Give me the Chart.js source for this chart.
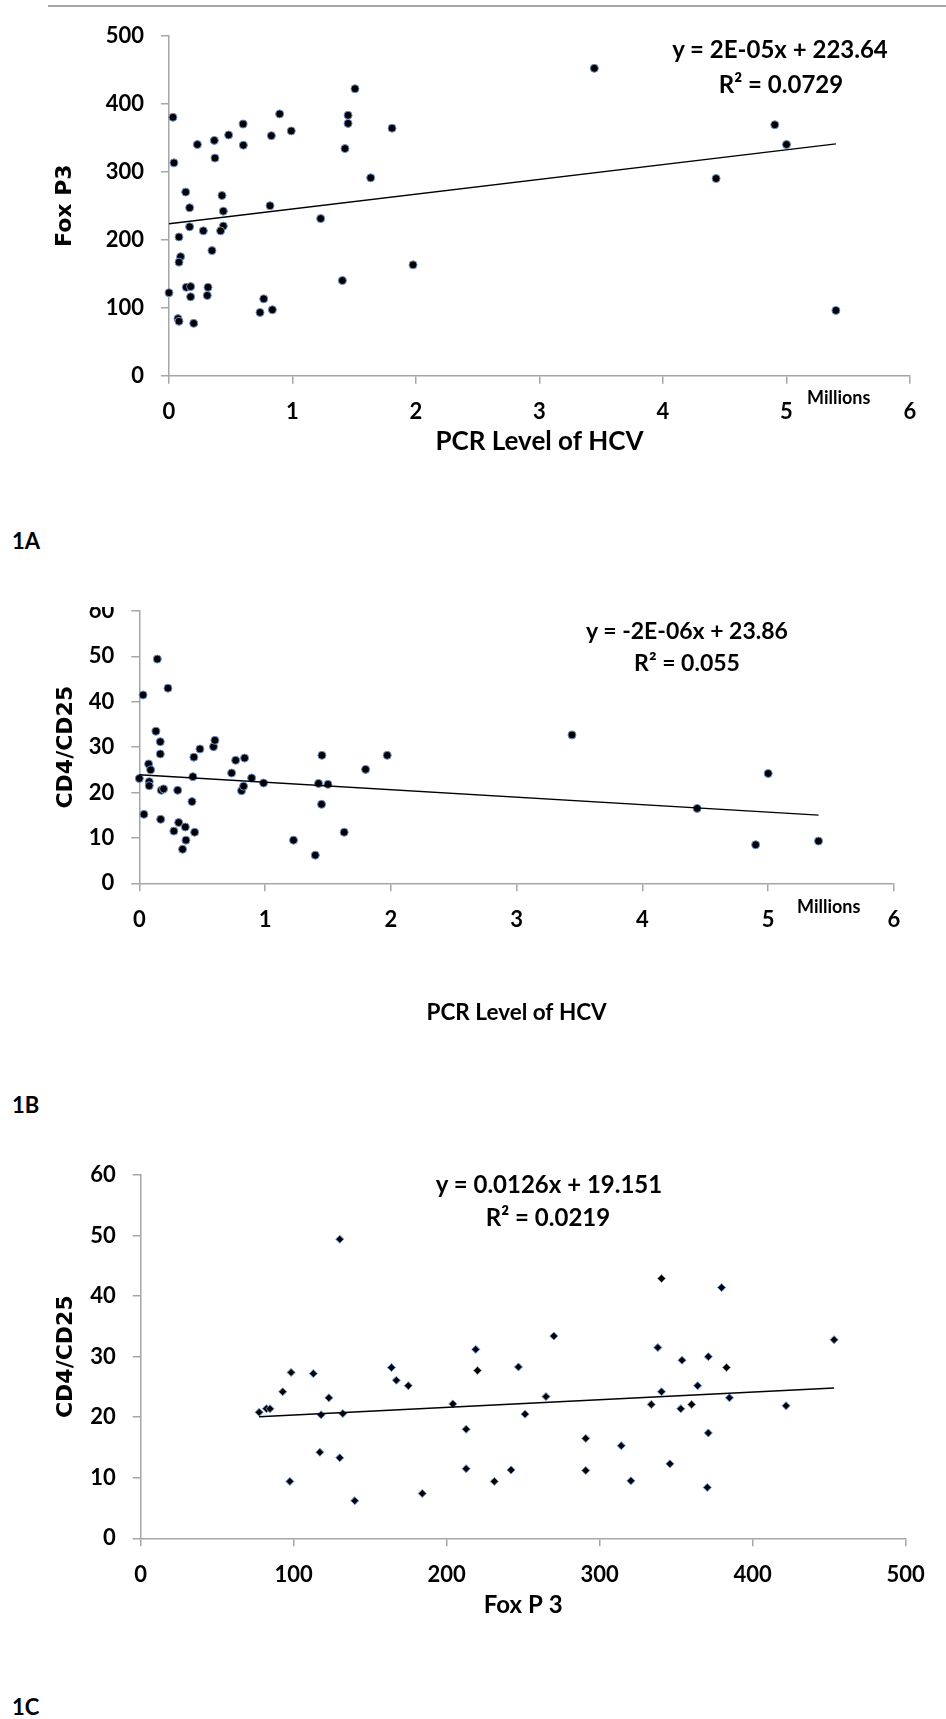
<!DOCTYPE html>
<html><head><meta charset="utf-8">
<script src="https://cdn.jsdelivr.net/npm/chart.js@4/dist/chart.umd.min.js"></script>
<style>
html,body{margin:0;padding:0;background:#fff;}
body{width:946px;height:1719px;position:relative;overflow:hidden;font-family:Lato,sans-serif;}
canvas{position:absolute;left:0;}
.t{position:absolute;font-family:Lato,sans-serif;font-weight:bold;color:#000;white-space:nowrap;line-height:1;}
.c{transform:translateX(-50%);}
#topline{position:absolute;left:48px;top:5px;width:898px;height:2px;background:#a6a6a6;}
</style>
</head><body>
<div id="topline"></div>
<canvas id="cA" width="946" height="470" style="top:0px"></canvas>
<canvas id="cB" width="946" height="440" style="top:607px"></canvas>
<canvas id="cC" width="946" height="500" style="top:1140px"></canvas>

<div class="t c" style="left:780px;top:37px;font-size:24px">y = 2E-05x + 223.64</div>
<div class="t c" style="left:781px;top:72px;font-size:24px">R² = 0.0729</div>
<div class="t" style="left:807px;top:388px;font-size:18px">Millions</div>
<div class="t" style="left:12px;top:530px;font-size:22px">1A</div>

<div class="t c" style="left:687px;top:619px;font-size:23px">y = -2E-06x + 23.86</div>
<div class="t c" style="left:687px;top:651px;font-size:23px">R² = 0.055</div>
<div class="t" style="left:797px;top:897px;font-size:18px">Millions</div>
<div class="t" style="left:12px;top:1094px;font-size:22px">1B</div>

<div class="t c" style="left:549px;top:1172px;font-size:24px">y = 0.0126x + 19.151</div>
<div class="t c" style="left:548px;top:1205px;font-size:24px">R² = 0.0219</div>
<div class="t" style="left:12px;top:1696px;font-size:22px">1C</div>

<script>
// ---- Data ----
// 1A : PCR level of HCV (millions) vs Fox P3
const pcrA = [0,0.032,0.04,0.135,0.167,0.167,0.081,0.094,0.081,0.14,0.175,0.175,0.073,0.081,0.2,
  0.23,0.278,0.316,0.31,0.348,0.367,0.372,0.429,0.44,0.44,0.418,0.483,0.6,0.602,0.737,
  0.767,0.837,0.818,0.829,0.896,0.99,1.228,1.404,1.425,1.45,1.45,1.506,1.633,1.806,1.976,
  3.444,4.905,5.0,4.43,5.40];
const foxA = [122,380,313,270,247,219,204,175,167,130,131,116,84,80,77,
  340,213,130,118,184,346,320,265,242,220,213,354,370,339,93,
  113,97,250,353,385,360,231,140,334,383,371,422,291,364,163,
  452,369,340,290,96];
// 1B : PCR level of HCV (millions) vs CD4/CD25
const pcrB = [0,0.03,0.037,0.143,0.228,0.132,0.167,0.167,0.074,0.09,0.079,0.079,0.175,0.193,0.305,
  0.17,0.313,0.275,0.366,0.371,0.344,0.44,0.419,0.426,0.434,0.482,0.59,0.601,0.734,0.766,
  0.837,0.813,0.829,0.893,0.988,1.226,1.399,1.425,1.452,1.449,1.5,1.629,1.799,1.971,
  3.44,4.435,4.9,5.0,5.40];
const cdB = [23.1,41.5,15.2,49.4,43,33.5,31.2,28.5,26.3,25,22.4,21.5,20.5,20.8,20.5,
  14.1,13.4,11.5,12.4,9.5,7.5,11.25,18,23.5,27.8,29.6,30.1,31.5,24.3,27.1,
  27.6,20.4,21.4,23.2,22.1,9.5,6.2,22,28.2,17.4,21.8,11.25,25.1,28.2,
  32.7,16.5,8.5,24.2,9.3];
// 1C : Fox P3 vs CD4/CD25
const foxC = [77.4,82.2,84.5,92.8,98.3,97.5,112.8,117.1,117.9,123,130.1,130.1,132.1,139.9,163.9,
  167.1,174.9,184,204,212.7,212.7,219,220.1,231.1,242.1,246.9,251.2,264.9,270,290.9,
  290.9,314.1,320.4,333.7,338,340.4,340.4,345.9,353,353.8,360.1,364,370.3,371,371,
  379.7,382.9,384.8,421.8,453.2];
const cdC = [20.8,21.4,21.4,24.2,27.4,9.4,27.2,14.2,20.4,23.2,49.4,13.3,20.6,6.2,28.2,
  26.1,25.2,7.4,22.2,18,11.5,31.2,27.7,9.4,11.3,28.3,20.5,23.4,33.4,16.5,
  11.2,15.3,9.5,22.1,31.5,42.9,24.2,12.3,21.4,29.4,22.1,25.2,8.4,17.4,30,
  41.4,28.2,23.2,21.9,32.8];
// Tick values
const xTicksPCR = [0,1,2,3,4,5,6];
const yTicksFox = [0,100,200,300,400,500];
const yTicksCD = [0,10,20,30,40,50,60];
const xTicksFox = [0,100,200,300,400,500];

function linFit(xs, ys){
  const n = xs.length;
  let sx=0, sy=0; for(let i=0;i<n;i++){sx+=xs[i];sy+=ys[i];}
  const mx=sx/n, my=sy/n; let sxy=0, sxx=0;
  for(let i=0;i<n;i++){sxy+=(xs[i]-mx)*(ys[i]-my);sxx+=(xs[i]-mx)*(xs[i]-mx);}
  const b=sxy/sxx, a=my-b*mx;
  const x0=Math.min(...xs), x1=Math.max(...xs);
  return [{x:x0,y:a+b*x0},{x:x1,y:a+b*x1}];
}

const grey = '#a6a6a6';
function axisCommon(ticksArr, tickPad){
  return {
    type:'linear', min:ticksArr[0], max:ticksArr[ticksArr.length-1],
    afterBuildTicks: s => { s.ticks = ticksArr.map(v => ({value:v})); },
    grid:{display:true, drawOnChartArea:false, drawTicks:true, tickLength:8, color:grey, lineWidth:1.5},
    border:{display:true, color:grey, width:1.5},
    ticks:{padding:tickPad, color:'#000', autoSkip:false, maxRotation:0,
      font:{family:'Lato', weight:'bold', size:22}}
  };
}

function makeChart(id, o){
  const x = axisCommon(o.xTicks, 15);
  x.position = 'bottom';
  x.afterFit = s => { s.height = o.xAxisH; s.paddingLeft = 0; s.paddingRight = 0; };
  x.title = {display:true, text:o.xTitle, color:'#000',
    font:{family:'Lato', weight:'bold', size:o.xTitleSize}, padding:{top:0, bottom:o.xTitlePad}};
  const y = axisCommon(o.yTicks, 17);
  y.position = 'left';
  y.afterFit = s => { s.width = o.yAxisW; s.paddingTop = 0; s.paddingBottom = 0; };
  y.title = {display:true, text:o.yTitle, color:'#000',
    font:{family:'DejaVu Sans', weight:'bold', size:22}, padding:{top:o.yTitlePad, bottom:0}};
  return new Chart(document.getElementById(id), {
    type:'scatter',
    data:{datasets:[
      {data:o.xs.map((v,i)=>({x:v, y:o.ys[i]})), pointStyle:o.pointStyle, pointRadius:o.r,
       backgroundColor:'#000', borderColor:'#6f93cf', borderWidth:1, clip:false, order:1},
      {data:linFit(o.xs, o.ys), showLine:true, borderColor:'#000', borderWidth:1.4,
       pointRadius:0, fill:false, clip:false, order:0}
    ]},
    options:{
      responsive:false, animation:false, devicePixelRatio:1,
      layout:{autoPadding:false, padding:{top:o.top, right:o.right, bottom:0, left:0}},
      plugins:{legend:{display:false}, tooltip:{enabled:false}},
      scales:{x:x, y:y}
    }
  });
}

makeChart('cA', {xs:pcrA, ys:foxA, xTicks:xTicksPCR, yTicks:yTicksFox,
  xTitle:'PCR Level of HCV', yTitle:'Fox P3', xTitleSize:26, xTitlePad:12.4,
  yTitlePad:51.8, top:35.7, right:36, xAxisH:94.3, yAxisW:169, pointStyle:'circle', r:4});
makeChart('cB', {xs:pcrB, ys:cdB, xTicks:xTicksPCR, yTicks:yTicksCD,
  xTitle:'PCR Level of HCV', yTitle:'CD4/CD25', xTitleSize:22.5, xTitlePad:20.8,
  yTitlePad:52.8, top:4, right:52, xAxisH:163.7, yAxisW:139.3, pointStyle:'circle', r:4});
makeChart('cC', {xs:foxC, ys:cdC, xTicks:xTicksFox, yTicks:yTicksCD,
  xTitle:'Fox P 3', yTitle:'CD4/CD25', xTitleSize:24, xTitlePad:20,
  yTitlePad:52.8, top:35, right:40.3, xAxisH:101.7, yAxisW:140.7, pointStyle:'rectRot', r:4});
</script>
</body></html>
